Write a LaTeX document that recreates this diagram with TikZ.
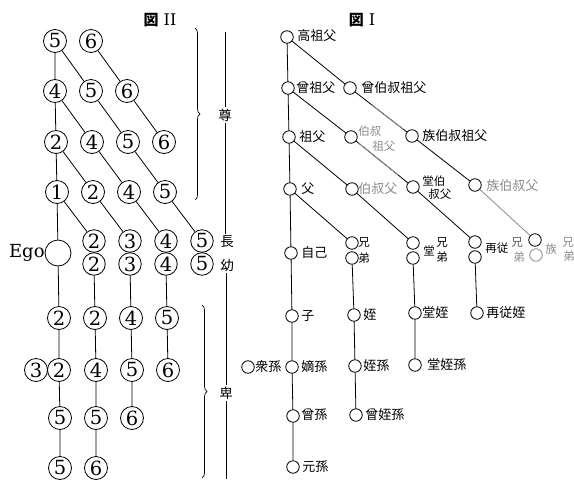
\documentclass[tikz,border=0pt]{standalone}
\usepackage{fontspec}
\setmainfont{DejaVu Serif}
\newfontfamily\jpfont{Noto Sans CJK JP}
\usetikzlibrary{decorations.pathreplacing,calc}

\colorlet{faded}{black!45}

\begin{document}
\begin{tikzpicture}[x=1pt,y=-1pt,line width=0.8pt,
  num/.style={circle,draw,minimum size=23pt,inner sep=0pt,font=\fontsize{19.5}{19.5}\selectfont},
  numsm/.style={num,minimum size=22.5pt},
  egonode/.style={circle,draw,minimum size=26pt,inner sep=0pt},
  kin/.style={circle,draw,minimum size=12.5pt,inner sep=0pt},
  kinlbl/.style={anchor=west,inner sep=0pt,font=\jpfont\fontsize{13}{13}\selectfont},
  kinsm/.style={kinlbl,font=\jpfont\fontsize{11.5}{12}\selectfont},
  side/.style={inner sep=1.5pt,font=\jpfont\fontsize{13.5}{13.5}\selectfont},
  ttl/.style={inner sep=0pt,font=\fontsize{16}{16}\selectfont},
  bracebar/.style={decorate,decoration={brace,amplitude=5pt},line width=0.7pt}
]
\useasboundingbox (0,0) rectangle (574,483);
\fill[white] (0,0) rectangle (574,483);

% ---------- Figure II: numbered generations ----------
\node[ttl] (t2) at (160,20) {{\jpfont\bfseries\fontsize{15}{15}\selectfont 図} II};

\node[num] (a1) at (55,41) {5};
\node[num] (a2) at (91,41) {6};
\node[num] (b1) at (55,91) {4};
\node[num] (b2) at (91,91) {5};
\node[num] (b3) at (127,91) {6};
\node[num] (c1) at (56,142) {2};
\node[num] (c2) at (92,142) {4};
\node[num] (c3) at (128,142) {5};
\node[num] (c4) at (164,142) {6};
\node[num] (d1) at (57,192) {1};
\node[num] (d2) at (93,192) {2};
\node[num] (d3) at (129,192) {4};
\node[num] (d4) at (165,192) {5};

\node[egonode] (ego) at (58,253) {};
\node[inner sep=0pt,font=\fontsize{18}{18}\selectfont,anchor=east] (egotxt) at (45,253) {Ego};

\node[numsm] (e2) at (94,241) {2};
\node[numsm] (e3) at (130,241) {3};
\node[numsm] (e4) at (166,241) {4};
\node[numsm] (e5) at (202,241) {5};
\node[numsm] (f2) at (94,264) {2};
\node[numsm] (f3) at (130,264) {3};
\node[numsm] (f4) at (166,264) {4};
\node[numsm] (f5) at (202,264) {5};

\node[num] (g1) at (59,318) {2};
\node[num] (g2) at (95,318) {2};
\node[num] (g3) at (131,318) {4};
\node[num] (g4) at (167,318) {5};
\node[num] (h0) at (36,370) {3};
\node[num] (h1) at (59,370) {2};
\node[num] (h2) at (96,370) {4};
\node[num] (h3) at (132,370) {5};
\node[num] (h4) at (168,370) {6};
\node[num] (i1) at (60,418) {5};
\node[num] (i2) at (96,418) {5};
\node[num] (i3) at (132,418) {6};
\node[num] (j1) at (60,468) {5};
\node[num] (j2) at (96,468) {6};

% direct line of descent
\draw (a1) -- (b1) -- (c1) -- (d1) -- (ego) -- (g1) -- (h1) -- (i1) -- (j1);
% collateral lines above Ego
\draw (a1) -- (b2) -- (c3) -- (d4) -- (e5);
\draw (a2) -- (b3) -- (c4);
\draw (b1) -- (c2) -- (d3) -- (e4);
\draw (c1) -- (d2) -- (e3);
\draw (d1) -- (e2);
% collateral lines below Ego
\draw (f2) -- (g2) -- (h2) -- (i2) -- (j2);
\draw (f3) -- (g3) -- (h3) -- (i3);
\draw (f4) -- (g4) -- (h4);

% seniority scale
\node[side] (zun) at (225,115) {尊};
\node[side] (zhang) at (227,242) {長};
\node[side] (you) at (227,265) {幼};
\node[side] (bei) at (226,393) {卑};
\coordinate (scaletop) at (225,32);
\coordinate (scalebot) at (226,479);
\draw[line width=0.7pt] (scaletop) -- (zun);
\draw[line width=0.7pt] (zun) -- (zun |- zhang.north);
\draw[line width=0.7pt] (you.south -| bei) -- (bei);
\draw[line width=0.7pt] (bei) -- (scalebot);

\coordinate (ub1) at (195,28);
\coordinate (ub2) at (195,200);
\coordinate (lb1) at (202,305);
\coordinate (lb2) at (202,478);
\draw[bracebar] (ub1) -- (ub2);
\draw[bracebar] (lb1) -- (lb2);

% ---------- Figure I: mourning kin ----------
\node[ttl] (t1) at (362,20) {{\jpfont\bfseries\fontsize{15}{15}\selectfont 図}\ I};

\node[kin] (gaozu) at (287,37) {};
\node[kin] (zengzu) at (288,88) {};
\node[kin] (zengbo) at (350,88) {};
\node[kin] (zu) at (289,137) {};
\node[kin] (bozu) at (351,137) {};
\node[kin] (zubozu) at (412,136) {};
\node[kin] (fu) at (290,189) {};
\node[kin] (bofu) at (352,189) {};
\node[kin] (tangbo) at (413,187) {};
\node[kin] (zubo) at (475,185) {};
\node[kin] (ziji) at (291,253) {};
\node[kin] (xiong) at (352,243) {};
\node[kin] (di) at (352,258) {};
\node[kin] (tangx) at (413,243) {};
\node[kin] (tangd) at (413,258) {};
\node[kin] (zaix) at (475,242) {};
\node[kin] (zaid) at (475,257) {};
\node[kin] (zux) at (535,240) {};
\node[kin,draw=faded] (zud) at (536,255) {};
\node[kin] (zi) at (292,316) {};
\node[kin] (zhi) at (354,315) {};
\node[kin] (tangzhi) at (415,313) {};
\node[kin] (zaizhi) at (477,313) {};
\node[kin] (zhongsun) at (248,367) {};
\node[kin] (disun) at (292,367) {};
\node[kin] (zhisun) at (355,366) {};
\node[kin] (tangzs) at (415,365) {};
\node[kin] (zengsun) at (293,416) {};
\node[kin] (zengzs) at (356,415) {};
\node[kin] (yuansun) at (293,467) {};

\draw (gaozu) -- (zengzu) -- (zu) -- (fu) -- (ziji) -- (zi) -- (disun) -- (zengsun) -- (yuansun);
\draw (gaozu) -- (zengbo) -- (zubozu) -- (zubo);
\draw[faded] (zubo) -- (zux);
\draw (zengzu) -- (bozu) -- (tangbo) -- (zaix);
\draw (zu) -- (bofu) -- (tangx);
\draw (fu) -- (xiong);
\draw (di) -- (zhi) -- (zhisun) -- (zengzs);
\draw (tangd) -- (tangzhi) -- (tangzs);
\draw (zaid) -- (zaizhi);
% worn stretches of two collateral lines
\draw[faded] ($(zengbo)!0.35!(zubozu)$) -- ($(zengbo)!0.85!(zubozu)$);
\draw[faded] ($(bozu)!0.12!(tangbo)$) -- ($(bozu)!0.75!(tangbo)$);

\node[kinlbl] (l-gaozu) at (297,36) {高祖父};
\node[kinlbl] (l-zengzu) at (296,88) {曾祖父};
\node[kinlbl] (l-zengbo) at (361,88) {曾伯叔祖父};
\node[kinlbl] (l-zu) at (299,137) {祖父};
\node[kinsm,text=faded] (l-bozu1) at (358,131) {伯叔};
\node[kinsm,text=faded] (l-bozu2) at (372,146) {祖父};
\node[kinlbl] (l-zubozu) at (422,136) {族伯叔祖父};
\node[kinlbl] (l-fu) at (301,189) {父};
\node[kinlbl,text=faded] (l-bofu) at (358,189) {伯叔父};
\node[kinsm] (l-tangbo1) at (422,181) {堂伯};
\node[kinsm] (l-tangbo2) at (428,194) {叔父};
\node[kinlbl,text=faded] (l-zubo) at (486,186) {族伯叔父};
\node[kinlbl] (l-ziji) at (301,253) {自己};
\node[kinsm] (l-xiong) at (358,242) {兄};
\node[kinsm] (l-di) at (358,258) {弟};
\node[kinsm] (l-tang) at (423,251) {堂};
\node[kinsm] (l-tangx) at (436,242) {兄};
\node[kinsm] (l-tangd) at (436,257) {弟};
\node[kinsm] (l-zai) at (485,248) {再従};
\node[kinsm,text=black!65] (l-zaix) at (511,242) {兄};
\node[kinsm,text=faded] (l-zaid) at (513,257) {弟};
\node[kinsm,text=faded] (l-zu3) at (545,249) {族};
\node[kinsm,text=faded] (l-zux) at (562,242) {兄};
\node[kinsm,text=faded] (l-zud) at (563,256) {弟};
\node[kinlbl] (l-zi) at (301,316) {子};
\node[kinlbl] (l-zhi) at (363,315) {姪};
\node[kinlbl] (l-tangzhi) at (422,313) {堂姪};
\node[kinlbl] (l-zaizhi) at (486,313) {再従姪};
\node[kinlbl] (l-zhongsun) at (255,367) {衆孫};
\node[kinlbl] (l-disun) at (301,367) {嫡孫};
\node[kinlbl] (l-zhisun) at (363,366) {姪孫};
\node[kinlbl] (l-tangzs) at (427,365) {堂姪孫};
\node[kinlbl] (l-zengsun) at (301,415) {曾孫};
\node[kinlbl] (l-zengzs) at (365,415) {曾姪孫};
\node[kinlbl] (l-yuansun) at (302,467) {元孫};
\end{tikzpicture}
\end{document}
